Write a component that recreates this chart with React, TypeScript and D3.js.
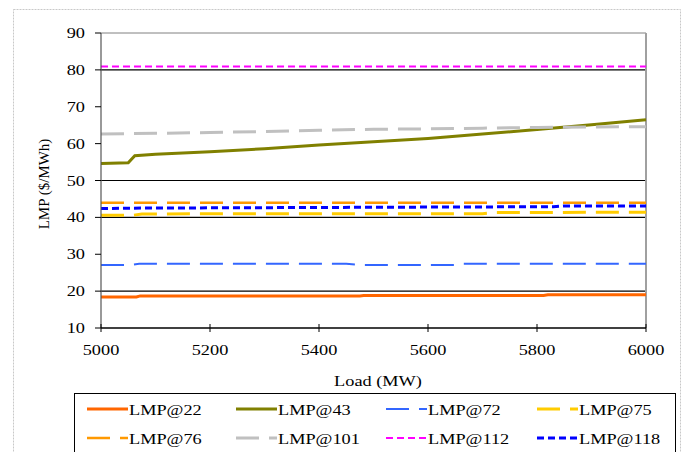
import React from "react";
import * as d3 from "d3";

// ---- data ----
const yTicks = [10, 20, 30, 40, 50, 60, 70, 80, 90];
const yGridValues = [20, 40, 50, 80];
const xTicks = [5000, 5200, 5400, 5600, 5800, 6000];

const lmp22: [number, number][] = [
  [5000, 18.4], [5065, 18.4], [5072, 18.7], [5475, 18.7], [5482, 18.8], [5812, 18.8], [5820, 19.0], [6000, 19.0],
];
const lmp43: [number, number][] = [
  [5000, 54.6], [5050, 54.8], [5062, 56.7], [5100, 57.1], [5200, 57.8], [5300, 58.6], [5400, 59.6],
  [5500, 60.5], [5600, 61.4], [5700, 62.6], [5800, 63.8], [5900, 65.1], [6000, 66.5],
];
const lmp72: [number, number][] = [
  [5000, 27.1], [5055, 27.1], [5070, 27.4], [5450, 27.4], [5475, 27.1], [5650, 27.1], [5665, 27.4], [6000, 27.4],
];
const lmp75: [number, number][] = [
  [5000, 40.6], [5060, 40.6], [5075, 40.9], [5200, 41.0], [5700, 41.0], [5720, 41.3], [6000, 41.4],
];
const lmp76: [number, number][] = [
  [5000, 44.0], [6000, 44.0],
];
const lmp101: [number, number][] = [
  [5000, 62.6], [5100, 62.8], [5200, 63.0], [5300, 63.3], [5400, 63.6], [5500, 63.9],
  [5600, 64.0], [5700, 64.2], [5800, 64.4], [5900, 64.5], [6000, 64.6],
];
const lmp112: [number, number][] = [
  [5000, 80.9], [6000, 80.9],
];
const lmp118: [number, number][] = [
  [5000, 42.4], [5050, 42.5], [5420, 42.7], [5830, 42.9], [5850, 43.1], [6000, 43.1],
];

const seriesNames = ["LMP@22", "LMP@43", "LMP@72", "LMP@75", "LMP@76", "LMP@101", "LMP@112", "LMP@118"];
const seriesData = [lmp22, lmp43, lmp72, lmp75, lmp76, lmp101, lmp112, lmp118];
const seriesColors = ["#FF6600", "#808000", "#3366FF", "#FFCC00", "#FF9900", "#C0C0C0", "#FF00FF", "#0000FF"];
const seriesWidths = [3, 3, 2, 3, 2.5, 3, 2, 3];
const seriesDash = ["", "", "23 10", "23 10", "23 10", "23 10", "7 4", "7 4"];

// ---- layout ----
const W = 685;
const H = 452;
const left = 101;
const right = 646;
const top = 33;
const bottom = 328;
const SX = 1.22;
const FONT = "'Times New Roman', 'Liberation Serif', serif";

export default function App() {
  const x = d3.scaleLinear().domain([5000, 6000]).range([left, right]);
  const y = d3.scaleLinear().domain([10, 90]).range([bottom, top]);
  const line = d3
    .line<[number, number]>()
    .x((d) => x(d[0]))
    .y((d) => y(d[1]));

  const legendCols = [87, 236, 386, 537];
  const legendRows = [409, 438];

  return (
    <div style={{ position: "fixed", left: 0, top: 0 }}>
      <svg width={W} height={H} style={{ display: "block", background: "#fff" }} fontFamily={FONT}>
        {/* outer frame */}
        <rect x={13.5} y={9.5} width={667} height={460} fill="none" stroke="#C8C8C8" strokeWidth={1} strokeDasharray="2 1" />

        {/* grid lines */}
        {yGridValues.map((v) => (
          <line key={v} x1={left} x2={right} y1={y(v)} y2={y(v)} stroke="#000" strokeWidth={1.2} />
        ))}

        {/* plot border top and right */}
        <line x1={left} x2={right} y1={top} y2={top} stroke="#808080" strokeWidth={1} />
        <line x1={right} x2={right} y1={top} y2={bottom} stroke="#A0A0A0" strokeWidth={2} />

        {/* series */}
        {seriesData.map((data, i) => (
          <path
            key={seriesNames[i]}
            d={line(data) || ""}
            fill="none"
            stroke={seriesColors[i]}
            strokeWidth={seriesWidths[i]}
            strokeDasharray={seriesDash[i] || undefined}
          />
        ))}

        {/* y axis */}
        <line x1={left} x2={left} y1={top} y2={bottom} stroke="#555" strokeWidth={1.2} />
        {yTicks.map((v) => (
          <g key={v}>
            <line x1={left - 6} x2={left} y1={y(v)} y2={y(v)} stroke="#000" strokeWidth={1} />
            <text
              transform={`translate(85,${y(v) + 5}) scale(${SX},1)`}
              textAnchor="end"
              fontSize={15}
              fill="#000"
            >
              {v}
            </text>
          </g>
        ))}

        {/* x axis */}
        <line x1={left} x2={right} y1={bottom} y2={bottom} stroke="#000" strokeWidth={1.5} />
        {xTicks.map((v) => (
          <g key={v}>
            <line x1={x(v)} x2={x(v)} y1={bottom - 4} y2={bottom + 4} stroke="#000" strokeWidth={1} />
            <text
              transform={`translate(${x(v)},355) scale(${SX},1)`}
              textAnchor="middle"
              fontSize={15}
              fill="#000"
            >
              {v}
            </text>
          </g>
        ))}

        {/* axis titles */}
        <text transform={`translate(378,386) scale(${SX},1)`} textAnchor="middle" fontSize={15} fill="#000">
          Load (MW)
        </text>
        <text transform={`translate(49,184) rotate(-90)`} textAnchor="middle" fontSize={15} fill="#000">
          LMP ($/MWh)
        </text>

        {/* legend */}
        <rect x={74.5} y={393.5} width={601} height={80} fill="#fff" stroke="#000" strokeWidth={1} />
        {seriesNames.map((name, i) => {
          const cx = legendCols[i % 4];
          const cy = legendRows[Math.floor(i / 4)];
          return (
            <g key={name}>
              <line
                x1={cx}
                x2={cx + 41}
                y1={cy}
                y2={cy}
                stroke={seriesColors[i]}
                strokeWidth={seriesWidths[i]}
                strokeDasharray={seriesDash[i] || undefined}
              />
              <text
                transform={`translate(${cx + 42},${cy + 6}) scale(${SX},1)`}
                fontSize={15}
                fill="#000"
              >
                {name}
              </text>
            </g>
          );
        })}
      </svg>
    </div>
  );
}
